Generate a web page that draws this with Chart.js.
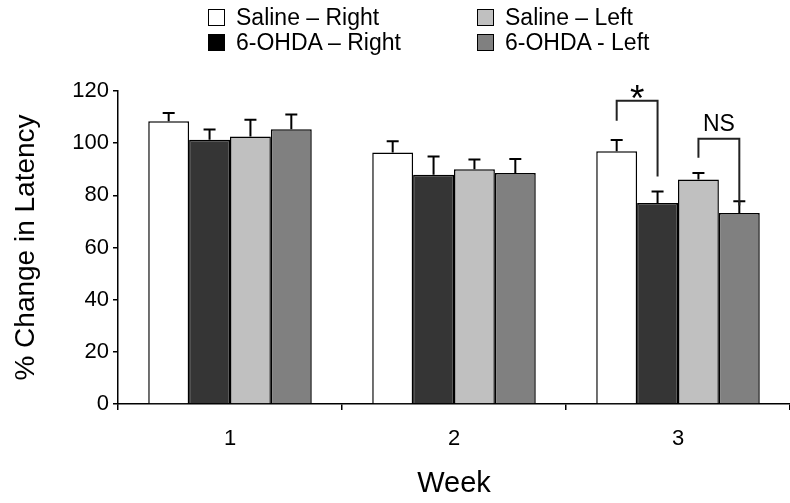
<!DOCTYPE html>
<html>
<head>
<meta charset="utf-8">
<script src="https://cdn.jsdelivr.net/npm/chart.js@4"></script>
<style>
    body { margin: 0; background: #fff; font-family: "Liberation Sans", Arial, sans-serif; }
    #wrap { position: relative; width: 790px; height: 503px; }
    #legend { position: absolute; left: 0; top: 0; width: 790px; height: 60px; }
    .item { position: absolute; display: flex; align-items: center; font-size: 23px; color: #000; white-space: nowrap; }
    .box { width: 15px; height: 15px; border: 1.5px solid #000; margin-right: 11px; }
</style>
</head>
<body>
<div id="wrap">
    <canvas id="chart" width="790" height="503"></canvas>
    <div id="legend"></div>
</div>
<script>
const weeks = ["1", "2", "3"];
const yTicks = [0, 20, 40, 60, 80, 100, 120];

const salineRight = [108.4, 96.4, 96.9];
const salineRightErr = [3.2, 4.3, 4.3];
const ohdaRight = [101.3, 87.9, 77.1];
const ohdaRightErr = [3.9, 7.0, 4.4];
const salineLeft = [102.6, 90.0, 86.1];
const salineLeftErr = [6.4, 3.7, 2.5];
const ohdaLeft = [105.3, 88.6, 73.2];
const ohdaLeftErr = [5.7, 5.3, 4.5];

// significance brackets in week 3: dataset indexes and levels in % units
const brackets = [
    {from: 0, to: 1, week: 2, top: 116.3, leftEnd: 108.6, rightEnd: 87.2, label: "*"},
    {from: 2, to: 3, week: 2, top: 101.7, leftEnd: 94.4, rightEnd: 76.1, label: "NS"},
];

const series = [
    {label: "Saline \u2013 Right", data: salineRight, err: salineRightErr, color: "#ffffff", legendColor: "#ffffff"},
    {label: "6-OHDA \u2013 Right", data: ohdaRight, err: ohdaRightErr, color: "#353535", legendColor: "#000000"},
    {label: "Saline \u2013 Left", data: salineLeft, err: salineLeftErr, color: "#c0c0c0", legendColor: "#c0c0c0"},
    {label: "6-OHDA - Left", data: ohdaLeft, err: ohdaLeftErr, color: "#808080", legendColor: "#808080"},
];

const font = "'Liberation Sans', Arial, sans-serif";

const errorBars = {
    id: "errorBars",
    afterDatasetsDraw(chart) {
        const ctx = chart.ctx;
        const y = chart.scales.y;
        ctx.save();
        ctx.strokeStyle = "#000";
        ctx.lineWidth = 2;
        chart.data.datasets.forEach((ds, i) => {
            chart.getDatasetMeta(i).data.forEach((bar, j) => {
                const top = y.getPixelForValue(ds.data[j] + ds.err[j]);
                ctx.beginPath();
                ctx.moveTo(bar.x, bar.y);
                ctx.lineTo(bar.x, top);
                ctx.moveTo(bar.x - 6, top);
                ctx.lineTo(bar.x + 6, top);
                ctx.stroke();
            });
        });
        ctx.restore();
    }
};

const bracketMarks = {
    id: "bracketMarks",
    afterDatasetsDraw(chart) {
        const ctx = chart.ctx;
        const y = chart.scales.y;
        ctx.save();
        ctx.strokeStyle = "#222";
        ctx.lineWidth = 2;
        ctx.fillStyle = "#000";
        ctx.textAlign = "center";
        ctx.textBaseline = "alphabetic";
        brackets.forEach(b => {
            const x1 = chart.getDatasetMeta(b.from).data[b.week].x;
            const x2 = chart.getDatasetMeta(b.to).data[b.week].x;
            const top = y.getPixelForValue(b.top);
            ctx.beginPath();
            ctx.moveTo(x1, y.getPixelForValue(b.leftEnd));
            ctx.lineTo(x1, top);
            ctx.lineTo(x2, top);
            ctx.lineTo(x2, y.getPixelForValue(b.rightEnd));
            ctx.stroke();
            if (b.label === "*") {
                ctx.font = "37px " + font;
                ctx.fillText(b.label, (x1 + x2) / 2, top + 10);
            } else {
                ctx.font = "23px " + font;
                ctx.fillText(b.label, (x1 + x2) / 2, top - 8);
            }
        });
        ctx.restore();
    }
};

new Chart(document.getElementById("chart"), {
    type: "bar",
    data: {
        labels: weeks,
        datasets: series.map(s => ({
            label: s.label,
            data: s.data,
            err: s.err,
            backgroundColor: s.color,
            borderColor: "#000",
            borderWidth: 1.5,
            categoryPercentage: 0.73,
            barPercentage: 1.0,
        })),
    },
    options: {
        responsive: false,
        animation: false,
        layout: {padding: {top: 91, right: 0, left: 0, bottom: 0}},
        plugins: {
            legend: {display: false},
            tooltip: {enabled: false},
        },
        scales: {
            x: {
                grid: {offset: true, drawOnChartArea: false, color: "#000", lineWidth: 1.5, tickLength: 6},
                border: {color: "#000", width: 1.5},
                ticks: {color: "#000", font: {family: font, size: 22}, padding: 16},
                title: {display: true, text: "Week", color: "#000", font: {family: font, size: 29}, padding: {top: 0, bottom: 2}},
                afterFit(scale) { scale.height = 99; },
            },
            y: {
                min: 0,
                max: 120,
                afterBuildTicks(scale) { scale.ticks = yTicks.map(v => ({value: v})); },
                grid: {drawOnChartArea: false, color: "#000", lineWidth: 1.5, tickLength: 5},
                border: {color: "#000", width: 1.5},
                ticks: {color: "#000", font: {family: font, size: 22}, padding: 4},
                title: {display: true, text: "% Change in Latency", color: "#000", font: {family: font, size: 28}, padding: {top: 9, bottom: 0}},
                afterFit(scale) { scale.width = 118; },
            },
        },
    },
    plugins: [errorBars, bracketMarks],
});

// two-column legend like the figure
const legendSpots = [[208, 17], [208, 42], [477, 17], [477, 42]];
const legend = document.getElementById("legend");
series.forEach((s, i) => {
    const item = document.createElement("div");
    item.className = "item";
    item.style.left = legendSpots[i][0] + "px";
    item.style.top = (legendSpots[i][1] - 13) + "px";
    item.innerHTML = '<span class="box" style="background:' + s.legendColor + '"></span>' + s.label;
    legend.appendChild(item);
});
</script>
</body>
</html>
